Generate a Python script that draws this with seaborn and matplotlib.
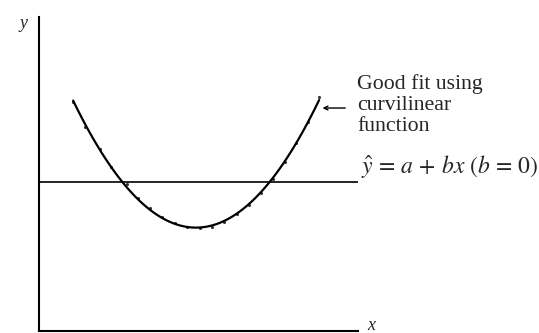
import matplotlib
matplotlib.use("Agg")
import matplotlib.pyplot as plt
import seaborn as sns
import pandas as pd

# Observations lying along a U-shaped relationship
x_obs = [1.07, 1.44, 1.91, 2.26, 2.76, 3.10, 3.48, 3.86, 4.26, 4.64, 5.05,
         5.42, 5.80, 6.21, 6.58, 6.96, 7.34, 7.71, 8.06, 8.43, 8.78]
y_obs = [7.29, 6.50, 5.80, 5.22, 4.68, 4.24, 3.92, 3.63, 3.44, 3.31, 3.28,
         3.31, 3.47, 3.73, 4.01, 4.39, 4.84, 5.38, 5.99, 6.66, 7.45]
# Straight-line fit with zero slope: y-hat = a
a_level = 4.75

fit_lines = ["Good fit using", "curvilinear", "function"]
line_label = r"$\hat{y}\,=\,a\,+\,bx\ (b\,=\,0)$"

df = pd.DataFrame({"x": x_obs, "y": y_obs})

sns.set_theme(style="white")
plt.rcParams["font.family"] = ["Liberation Serif", "DejaVu Serif"]
plt.rcParams["mathtext.fontset"] = "stix"

W, H = 539, 333
fig = plt.figure(figsize=(W / 100, H / 100), dpi=100)
fig.patch.set_facecolor("white")
ax = fig.add_axes([39 / W, 2 / H, 319 / W, 314 / H])
ax.set_facecolor("white")

sns.regplot(data=df, x="x", y="y", order=2, ci=None, truncate=True, ax=ax,
            color="black", marker="o",
            scatter_kws={"s": 5, "linewidths": 0},
            line_kws={"linewidth": 1.6})
ax.axhline(a_level, color="black", linewidth=1.2)

ax.set_xlim(0, 10)
ax.set_ylim(0, 10)
ax.set_xticks([])
ax.set_yticks([])
ax.set_xlabel("")
ax.set_ylabel("")
for side in ("top", "right"):
    ax.spines[side].set_visible(False)
for side in ("left", "bottom"):
    ax.spines[side].set_color("black")
    ax.spines[side].set_linewidth(1.5)

# axis letters
fig.text(24 / W, 1 - 23 / H, "y", fontsize=13, style="italic",
         ha="center", va="center")
fig.text(371 / W, 1 - 325 / H, "x", fontsize=13, style="italic",
         ha="center", va="center")

# annotation of the curved fit
for i, txt in enumerate(fit_lines):
    fig.text(357 / W, 1 - (89 + 21 * i) / H, txt, fontsize=15.7,
             ha="left", va="baseline")
ax.annotate("", xy=(8.80, 7.10), xycoords="data",
            xytext=(348 / W, 1 - 108 / H), textcoords="figure fraction",
            arrowprops=dict(arrowstyle="->", color="black", lw=1.0,
                            mutation_scale=7), annotation_clip=False)

# label of the zero-slope line
fig.text(361 / W, 1 - 173 / H, line_label, fontsize=17, ha="left",
         va="baseline")

fig.savefig("out.png", dpi=100, facecolor="white")
